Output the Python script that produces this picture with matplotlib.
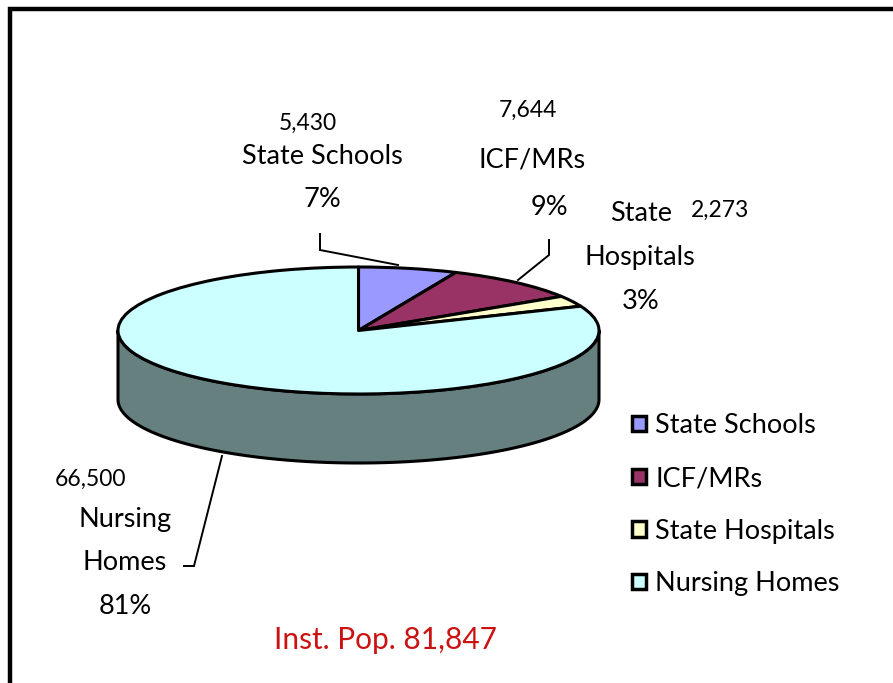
import numpy as np
import matplotlib
matplotlib.use("Agg")
import matplotlib.pyplot as plt
from matplotlib.patches import Polygon, Rectangle

plt.rcParams['font.family'] = ['Lato', 'DejaVu Sans']

categories = ["State Schools", "ICF/MRs", "State Hospitals", "Nursing Homes"]
values = [5430, 7644, 2273, 66500]
colors = ["#9999FF", "#993366", "#FFFFCC", "#CCFFFF"]
side_colors = ["#4C4C80", "#4C1933", "#80806A", "#668080"]
total_label = "Inst. Pop. 81,847"

W, H = 893, 683
fig = plt.figure(figsize=(W / 100, H / 100), dpi=100)
ax = fig.add_axes([0, 0, 1, 1])

# pie geometry in pixels (centre, radii, depth)
cx, cy, rx, ry, depth_px = 358.5, 330.5, 240.5, 63.5, 69

def P(x, y):
    """pixel -> data coordinates (pie radius = 1)"""
    return (x - cx) / rx, (cy - y) / ry

depth = depth_px / ry

wedges, _ = ax.pie(values, colors=colors, startangle=90, counterclock=False,
                   wedgeprops=dict(edgecolor="black", linewidth=2.2, joinstyle="round"))
for w in wedges:
    w.set_zorder(3)

# side wall for front part of the pie (angles 180..360)
total = float(sum(values))
start = 90.0
for v, sc in zip(values, side_colors):
    a1 = start - 360.0 * v / total
    a0 = start
    start = a1
    for shift in (-360, 0, 360):
        lo = max(a1 + shift, 180.0)
        hi = min(a0 + shift, 360.0)
        if hi > lo:
            t = np.radians(np.linspace(lo, hi, 200))
            top = np.column_stack([np.cos(t), np.sin(t)])
            bot = np.column_stack([np.cos(t[::-1]), np.sin(t[::-1]) - depth])
            ax.add_patch(Polygon(np.vstack([top, bot]), closed=True, facecolor=sc,
                                 edgecolor="black", linewidth=2.2, joinstyle="round",
                                 zorder=2))

ax.set_aspect("auto")
x0, y0 = P(0, H)
x1, y1 = P(W, 0)
ax.set_xlim(x0, x1)
ax.set_ylim(y0, y1)
ax.axis("off")

fs = 19.5
fn = 16.5
def T(x, y, s, size=fs, ha="center", color="black"):
    ax.text(*P(x, y), s, fontsize=size, ha=ha, va="center", color=color, zorder=5)

# labels
T(308, 123, "5,430", size=fn)
T(322, 157, categories[0])
T(322, 200, "7%")

T(528, 110, "7,644", size=fn)
T(532, 160, categories[1])
T(549, 208, "9%")

T(641, 214, "State")
T(720, 210, "2,273", size=fn)
T(640, 258, "Hospitals")
T(641, 302, "3%")

T(90, 479, "66,500", size=fn)
T(125, 520, "Nursing")
T(125, 562, "Homes")
T(125, 607, "81%")

T(385, 640, total_label, size=21.5, color="#CC1111")

# leader lines
def L(pts):
    xy = np.array([P(x, y) for x, y in pts])
    ax.plot(xy[:, 0], xy[:, 1], color="black", linewidth=1.4, zorder=4,
            solid_joinstyle="miter")

L([(320, 234), (320, 250), (398, 265)])
L([(549, 240), (549, 255), (518, 280)])
L([(184, 566), (194, 566), (222, 456)])

# legend
leg = fig.legend(wedges, categories, loc="upper left",
                 bbox_to_anchor=(608 / W, 1 - 389 / H), frameon=False,
                 fontsize=19.5, handlelength=0.5, handleheight=0.5,
                 handletextpad=0.35, labelspacing=1.02)
for h in leg.legend_handles:
    h.set_linewidth(2.5)
    h.set_edgecolor("black")

# outer frame (right and bottom edges lie outside the image)
fig.patches.append(Rectangle((10 / W, -0.2), 1.5, 1.2 - 9 / H,
                             transform=fig.transFigure, fill=False,
                             edgecolor="black", linewidth=3.2))

fig.savefig("out.png", dpi=100)
